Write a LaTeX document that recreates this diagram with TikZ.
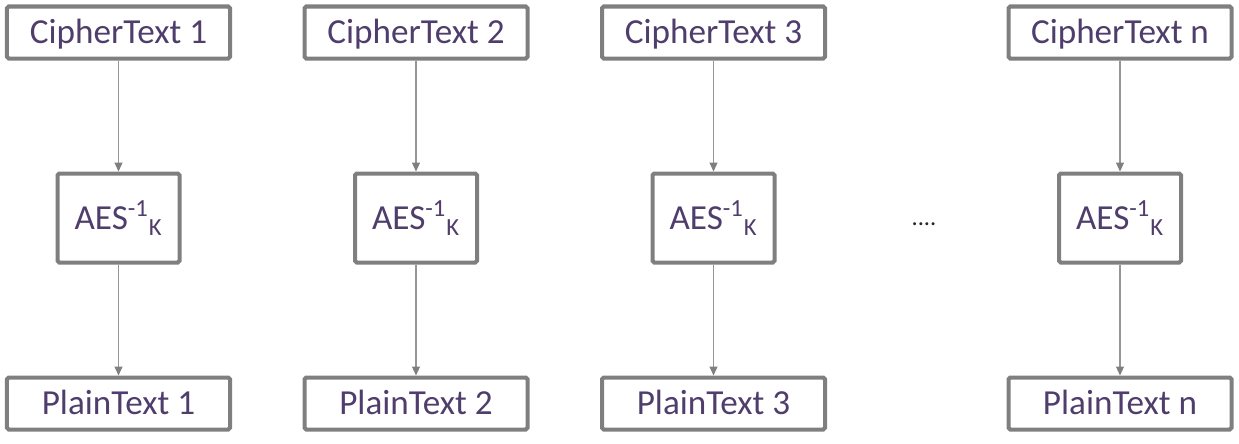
\documentclass[tikz,border=0pt]{standalone}
\usepackage{fontspec}
\setmainfont{Carlito}
\usetikzlibrary{
    arrows.meta,
    positioning,
}
\definecolor{boxgray}{RGB}{127,127,127}
\definecolor{linegray}{RGB}{150,150,150}
\definecolor{textpurple}{RGB}{79,61,107}
\tikzstyle{textbox} = [rectangle, draw=boxgray, line width=0.08cm,
    rounded corners=1pt, text=textpurple, minimum width=4.46cm,
    minimum height=1.04cm, text height=12.9pt, text depth=0pt,
    font=\fontsize{20}{24}\selectfont]
\tikzstyle{aesbox} = [rectangle, draw=boxgray, line width=0.08cm,
    rounded corners=1pt, text=textpurple, minimum width=2.44cm,
    minimum height=1.78cm, font=\fontsize{20}{24}\selectfont]
\tikzstyle{dots} = [font=\fontsize{14}{16}\selectfont, text=black!85]
\tikzstyle{line} = [draw=linegray, line width=0.6pt,
    -{Triangle[width=0.16cm, length=0.18cm, color=boxgray]}]

\begin{document}
\begin{tikzpicture}[node distance = 3.71cm, auto]
        \useasboundingbox (0,0) rectangle (24.78,-8.86);
        % Place nodes
        \node [textbox] (c1) at (2.37,-0.65) {CipherText 1};
        \node [aesbox, below of=c1] (a1) {AES\textsuperscript{-1}\textsubscript{K}};
        \node [textbox, below of=a1] (p1) {PlainText 1};
        \node [textbox, right of=c1, node distance=5.95cm] (c2) {CipherText 2};
        \node [aesbox, below of=c2] (a2) {AES\textsuperscript{-1}\textsubscript{K}};
        \node [textbox, below of=a2] (p2) {PlainText 2};
        \node [textbox, right of=c2, node distance=5.95cm] (c3) {CipherText 3};
        \node [aesbox, below of=c3] (a3) {AES\textsuperscript{-1}\textsubscript{K}};
        \node [textbox, below of=a3] (p3) {PlainText 3};
        \node [textbox, right of=c3, node distance=8.13cm] (cn) {CipherText n};
        \node [aesbox, below of=cn] (an) {AES\textsuperscript{-1}\textsubscript{K}};
        \node [textbox, below of=an] (pn) {PlainText n};
        \node [dots] (gap) at (18.48,-4.48) {....};
        % Draw edges
        \path [line] (c1) -- (a1);
        \path [line] (a1) -- (p1);
        \path [line] (c2) -- (a2);
        \path [line] (a2) -- (p2);
        \path [line] (c3) -- (a3);
        \path [line] (a3) -- (p3);
        \path [line] (cn) -- (an);
        \path [line] (an) -- (pn);
    \end{tikzpicture}
\end{document}
